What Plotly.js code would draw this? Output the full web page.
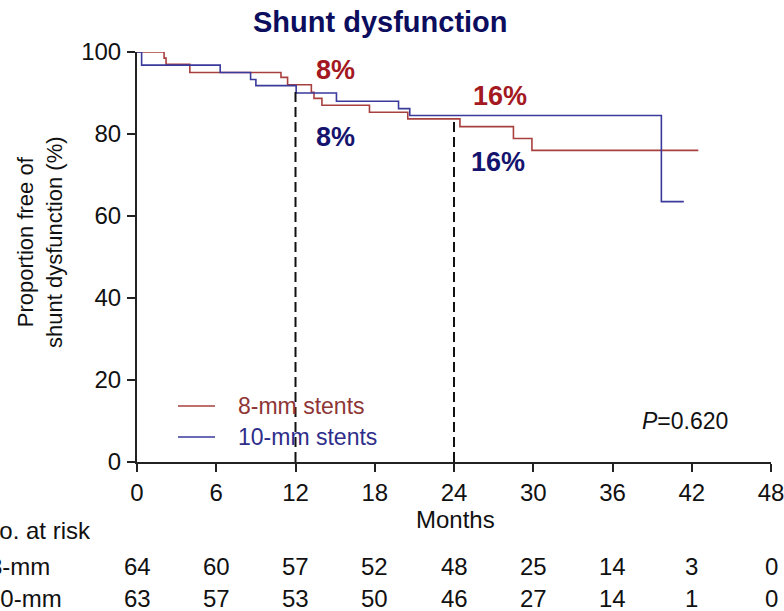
<!DOCTYPE html>
<html>
<head>
<meta charset="utf-8">
<script src="https://cdn.plot.ly/plotly-3.0.1.min.js"></script>
<style>html,body{margin:0;padding:0;background:#fff;}#chart{width:784px;height:611px;}</style>
</head>
<body>
<div id="chart"></div>
<script>
// Kaplan-Meier step data (months, % free of shunt dysfunction)
const months8 = [0, 2.05, 2.2, 4.0, 10.9, 11.4, 13.2, 13.4, 14.0, 17.6, 20.5, 24.45, 28.5, 29.9, 42.5];
const surv8   = [100, 98.5, 97.0, 95.0, 93.8, 92.0, 90.2, 88.7, 87.0, 85.3, 83.7, 81.8, 78.9, 76.0, 76.0];
const months10 = [0, 0.35, 6.3, 8.6, 9.0, 12.05, 15.1, 19.8, 20.65, 39.7, 41.4];
const surv10   = [100, 96.8, 95.0, 93.3, 91.8, 90.0, 88.0, 86.2, 84.5, 63.5, 63.5];

// Landmark reference lines
const landmarkMonths = [12, 24];
const landmarkTops = [90.5, 83.3];
const rate8Labels = ["8%", "16%"];
const rate10Labels = ["8%", "16%"];

// Number at risk table
const riskMonths = [0, 6, 12, 18, 24, 30, 36, 42, 48];
const risk8 = [64, 60, 57, 52, 48, 25, 14, 3, 0];
const risk10 = [63, 57, 53, 50, 46, 27, 14, 1, 0];
const seriesNames = ["8-mm stents", "10-mm stents"];
const rowLabels = ["8-mm", "10-mm"];
const xTicks = [0, 6, 12, 18, 24, 30, 36, 42, 48];
const yTicks = [0, 20, 40, 60, 80, 100];

const FONT = "Liberation Sans, Arial, sans-serif";
const RED_LINE = "#a8403f", BLUE_LINE = "#3a3a9c";
const RED_TXT = "#a3191f", BLUE_TXT = "#14146e";
const LEG_TXT = ["#8e3636", "#2e2e8a"];
const LINE_COLORS = [RED_LINE, BLUE_LINE];

const traces = [
  {x: months8, y: surv8, mode: "lines", line: {shape: "hv", color: RED_LINE, width: 1.6}, name: seriesNames[0]},
  {x: months10, y: surv10, mode: "lines", line: {shape: "hv", color: BLUE_LINE, width: 1.6}, name: seriesNames[1]}
];
landmarkMonths.forEach((m, i) => {
  traces.push({x: [m, m], y: [0, landmarkTops[i]], mode: "lines", showlegend: false,
    line: {color: "#111", width: 2, dash: "10px,5px"}, hoverinfo: "skip"});
});

const ann = [];
const shapes = [];
const pY = py => (462 - py) / 410;
const pX = px => (px - 137) / 634;
ann.push({text: "<b>Shunt dysfunction</b>", xref: "paper", yref: "paper", x: pX(380), y: pY(22),
  xanchor: "center", yanchor: "middle", showarrow: false, font: {family: FONT, size: 29, color: "#0d0d5e"}});
ann.push({text: "Proportion free of<br>shunt dysfunction (%)", xref: "paper", yref: "paper", x: pX(40), y: pY(242),
  xanchor: "center", yanchor: "middle", textangle: -90, showarrow: false, font: {family: FONT, size: 22, color: "#111"}});
ann.push({text: "Months", xref: "paper", yref: "paper", x: pX(455), y: pY(519), xanchor: "center", yanchor: "middle",
  showarrow: false, font: {family: FONT, size: 24, color: "#111"}});
ann.push({text: "<i>P</i>=0.620", xref: "x", yref: "y", x: 41.5, y: 10, xanchor: "center", yanchor: "middle",
  showarrow: false, font: {family: FONT, size: 23, color: "#111"}});
// percent labels
const labPos8 = [[15.0, 95.6], [27.5, 89.3]];
const labPos10 = [[15.0, 79.3], [27.3, 73.2]];
rate8Labels.forEach((t, i) => ann.push({text: "<b>" + t + "</b>", xref: "x", yref: "y", x: labPos8[i][0], y: labPos8[i][1],
  xanchor: "center", yanchor: "middle", showarrow: false, font: {family: FONT, size: 27, color: RED_TXT}}));
rate10Labels.forEach((t, i) => ann.push({text: "<b>" + t + "</b>", xref: "x", yref: "y", x: labPos10[i][0], y: labPos10[i][1],
  xanchor: "center", yanchor: "middle", showarrow: false, font: {family: FONT, size: 27, color: BLUE_TXT}}));
// legend (keys + labels)
const legRows = [406, 437];
seriesNames.forEach((nm, i) => {
  shapes.push({type: "line", xref: "paper", yref: "paper", x0: pX(178), x1: pX(215), y0: pY(legRows[i]), y1: pY(legRows[i]),
    line: {color: LINE_COLORS[i], width: 1.6}});
  ann.push({text: nm, xref: "paper", yref: "paper", x: pX(236), y: pY(legRows[i]), xanchor: "left", yanchor: "middle",
    showarrow: false, font: {family: FONT, size: 23, color: LEG_TXT[i]}});
});
// risk table
ann.push({text: "No. at risk", xref: "paper", yref: "paper", x: pX(-20), y: pY(530), xanchor: "left", yanchor: "middle",
  showarrow: false, font: {family: FONT, size: 24, color: "#111"}});
ann.push({text: rowLabels[0], xref: "paper", yref: "paper", x: pX(-13), y: pY(566), xanchor: "left", yanchor: "middle",
  showarrow: false, font: {family: FONT, size: 24, color: "#111"}});
ann.push({text: rowLabels[1], xref: "paper", yref: "paper", x: pX(-15), y: pY(598), xanchor: "left", yanchor: "middle",
  showarrow: false, font: {family: FONT, size: 24, color: "#111"}});
riskMonths.forEach((m, i) => {
  ann.push({text: String(risk8[i]), xref: "x", yref: "paper", x: m, y: pY(566), xanchor: "center", yanchor: "middle",
    showarrow: false, font: {family: FONT, size: 24, color: "#111"}});
  ann.push({text: String(risk10[i]), xref: "x", yref: "paper", x: m, y: pY(598), xanchor: "center", yanchor: "middle",
    showarrow: false, font: {family: FONT, size: 24, color: "#111"}});
});

const layout = {
  width: 784, height: 611,
  margin: {l: 137, r: 13, t: 52, b: 149},
  paper_bgcolor: "#fff", plot_bgcolor: "#fff",
  showlegend: false,
  xaxis: {range: [0, 48], tickvals: xTicks, ticktext: xTicks.map(String), showgrid: false, zeroline: false,
    showline: true, linecolor: "#222", linewidth: 2, ticks: "outside", ticklen: 8, tickwidth: 2, tickcolor: "#222",
    ticklabelstandoff: 0, ticklabeloverflow: "allow", tickfont: {family: FONT, size: 24, color: "#111"}, fixedrange: true},
  yaxis: {range: [0, 100], tickvals: yTicks, ticktext: yTicks.map(String), showgrid: false, zeroline: false,
    showline: true, linecolor: "#222", linewidth: 2, ticks: "outside", ticklen: 8, tickwidth: 2, tickcolor: "#222",
    ticklabelstandoff: 1, ticklabeloverflow: "allow", tickfont: {family: FONT, size: 24, color: "#111"}, fixedrange: true},
  annotations: ann,
  shapes: shapes
};

Plotly.newPlot("chart", traces, layout, {displayModeBar: false, staticPlot: true});
</script>
</body>
</html>
